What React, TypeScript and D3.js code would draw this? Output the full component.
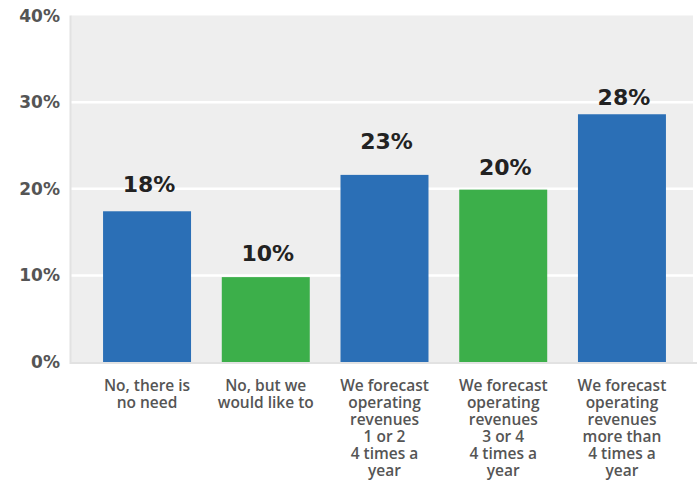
import React from "react";
import * as d3 from "d3";

const categories: string[][] = [
  ["No, there is", "no need"],
  ["No, but we", "would like to"],
  ["We forecast", "operating", "revenues", "1 or 2", "4 times a", "year"],
  ["We forecast", "operating", "revenues", "3 or 4", "4 times a", "year"],
  ["We forecast", "operating", "revenues", "more than", "4 times a", "year"],
];
const values = [17.4, 9.8, 21.6, 19.9, 28.6];
const labelValues = [18, 10, 23, 20, 28];
const colors = ["#2b6fb6", "#3caf4a", "#2b6fb6", "#3caf4a", "#2b6fb6"];
const yTicks = [0, 10, 20, 30, 40];

const W = 699;
const H = 481;
const left = 71;
const right = 693;
const top = 15.5;
const bottom = 362;
const FONT = "'DejaVu Sans', sans-serif";
const CAT_FONT = "'Open Sans', sans-serif";

export default function App() {
  const x = d3
    .scaleBand<number>()
    .domain(values.map((_, i) => i))
    .range([left, 698])
    .paddingInner(0.259)
    .paddingOuter(0.27);
  const y = d3.scaleLinear().domain([0, 40]).range([bottom, top]);

  return (
    <svg
      width={W}
      height={H}
      style={{ position: "absolute", left: 0, top: 0 }}
    >
      <rect x={left} y={top} width={right - left} height={bottom - top} fill="#eeeeee" />
      {yTicks.slice(1, 4).map((t) => (
        <line key={t} x1={left} x2={right} y1={y(t)} y2={y(t)} stroke="#ffffff" strokeWidth={2.5} />
      ))}
      <line x1={left - 0.5} x2={left - 0.5} y1={top} y2={bottom + 2} stroke="#e2e2e2" strokeWidth={2} />
      <line x1={left - 1} x2={697} y1={bottom + 1} y2={bottom + 1} stroke="#e2e2e2" strokeWidth={2} />
      {yTicks.map((t) => (
        <text
          key={t}
          x={60}
          y={y(t) + 6}
          textAnchor="end"
          fontFamily={FONT}
          fontWeight="bold"
          fontSize={17}
          fill="#555555"
        >
          {t}%
        </text>
      ))}
      {values.map((v, i) => (
        <rect
          key={i}
          x={x(i)}
          y={y(v)}
          width={x.bandwidth()}
          height={bottom - y(v)}
          fill={colors[i]}
        />
      ))}
      {labelValues.map((lv, i) => (
        <text
          key={i}
          x={(x(i) as number) + x.bandwidth() / 2 + 2}
          y={y(lv) - 14}
          textAnchor="middle"
          fontFamily={FONT}
          fontWeight="bold"
          fontSize={22}
          fill="#222222"
        >
          {lv}%
        </text>
      ))}
      {categories.map((lines, i) => (
        <text
          key={i}
          textAnchor="middle"
          fontFamily={CAT_FONT}
          fontSize={15.5}
          fontWeight={600}
          fill="#555555"
        >
          {lines.map((l, j) => (
            <tspan key={j} x={(x(i) as number) + x.bandwidth() / 2} y={391 + j * 17}>
              {l}
            </tspan>
          ))}
        </text>
      ))}
    </svg>
  );
}
